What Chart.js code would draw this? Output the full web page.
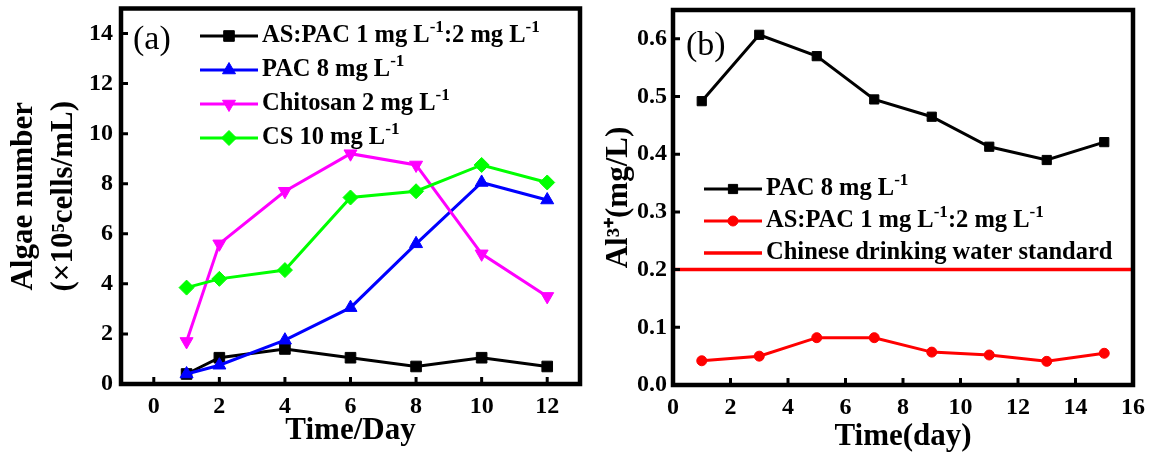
<!DOCTYPE html>
<html>
<head>
<meta charset="utf-8">
<script src="https://cdn.jsdelivr.net/npm/chart.js@4.4.1/dist/chart.umd.min.js"></script>
<style>
  body { margin: 0; background: #fff; }
  .panel { position: absolute; top: 0; }
</style>
</head>
<body>
<canvas id="chartA" class="panel" style="left:0" width="590" height="461"></canvas>
<canvas id="chartB" class="panel" style="left:590px" width="562" height="461"></canvas>
<script>
// panel (a): algae number
const daysA = [1, 2, 4, 6, 8, 10, 12];
const asPacA = [0.4, 1.05, 1.4, 1.05, 0.7, 1.05, 0.7];
const pacA = [0.4, 0.75, 1.75, 3.05, 5.6, 8.05, 7.35];
const chitosanA = [1.7, 5.6, 7.7, 9.2, 8.75, 5.2, 3.5];
const csA = [3.85, 4.2, 4.55, 7.45, 7.7, 8.75, 8.05];
const labelsA = ["AS:PAC 1 mg L⁻¹:2 mg L⁻¹", "PAC 8 mg L⁻¹", "Chitosan 2 mg L⁻¹", "CS 10 mg L⁻¹"];
const xTicksA = [0, 2, 4, 6, 8, 10, 12];
const yTicksA = [0, 2, 4, 6, 8, 10, 12, 14];

// panel (b): residual Al3+
const daysB = [1, 3, 5, 7, 9, 11, 13, 15];
const pacB = [0.492, 0.607, 0.57, 0.495, 0.465, 0.413, 0.39, 0.421];
const asPacB = [0.042, 0.05, 0.082, 0.082, 0.057, 0.052, 0.041, 0.055];
const standardX = [0, 16];
const standardY = [0.2, 0.2];
const labelsB = ["PAC 8 mg L⁻¹", "AS:PAC 1 mg L⁻¹:2 mg L⁻¹", "Chinese drinking water standard"];
const xTicksB = [0, 2, 4, 6, 8, 10, 12, 14, 16];
const yTicksB = [0, 0.1, 0.2, 0.3, 0.4, 0.5, 0.6];

const FAMILY = '"Liberation Serif", "Times New Roman", serif';
const SUP = { "⁻": "-", "¹": "1", "³": "3", "⁺": "+", "⁵": "5" };

function toPoints(xs, ys) {
  return xs.map((x, i) => ({ x: x, y: ys[i] }));
}

// draws text with unicode superscripts as small raised runs
function drawRich(ctx, text, x, y, size) {
  const runs = [];
  for (const ch of text) {
    const sup = ch in SUP;
    const last = runs[runs.length - 1];
    if (last && last.sup === sup) last.t += sup ? SUP[ch] : ch;
    else runs.push({ sup: sup, t: sup ? SUP[ch] : ch });
  }
  runs.forEach(r => {
    const s = r.sup ? size * 0.7 : size;
    ctx.font = "bold " + s + "px " + FAMILY;
    ctx.fillText(r.t, x, r.sup ? y - size * 0.36 : y);
    x += ctx.measureText(r.t).width;
  });
}

const panelDecor = {
  id: "panelDecor",
  afterDatasetsDraw(chart, args, opts) {
    const { ctx, chartArea: a, scales } = chart;
    ctx.save();
    ctx.strokeStyle = "#000";
    ctx.lineWidth = 4.5;
    ctx.strokeRect(a.left, a.top, a.right - a.left, a.bottom - a.top);

    // inward tick marks
    ctx.lineWidth = 3;
    ctx.beginPath();
    scales.x.ticks.forEach(t => {
      const px = scales.x.getPixelForValue(t.value);
      ctx.moveTo(px, a.bottom);
      ctx.lineTo(px, a.bottom - 7);
    });
    scales.y.ticks.forEach(t => {
      const py = scales.y.getPixelForValue(t.value);
      ctx.moveTo(a.left, py);
      ctx.lineTo(a.left + 7, py);
    });
    ctx.stroke();

    ctx.fillStyle = "#000";
    ctx.textBaseline = "middle";
    ctx.textAlign = "left";
    ctx.font = "34px " + FAMILY;
    ctx.fillText(opts.tag, opts.tagX, opts.tagY);

    opts.items.forEach((di, row) => {
      const ds = chart.data.datasets[di];
      const y = opts.legendY + row * opts.rowGap;
      const x0 = opts.legendX;
      ctx.strokeStyle = ds.borderColor;
      ctx.lineWidth = ds.borderWidth;
      ctx.beginPath();
      ctx.moveTo(x0, y);
      ctx.lineTo(x0 + 58, y);
      ctx.stroke();
      if (ds.pointRadius > 0) {
        ctx.fillStyle = ds.backgroundColor;
        ctx.lineWidth = 1;
        Chart.helpers.drawPoint(ctx, {
          pointStyle: ds.pointStyle,
          rotation: ds.pointRotation || 0,
          radius: ds.pointRadius,
          borderWidth: 1
        }, x0 + 29, y);
      }
      ctx.fillStyle = "#000";
      drawRich(ctx, ds.label, x0 + 62, y, 24.5);
    });
    ctx.restore();
  }
};

function series(label, xs, ys, color, style, radius, rotation) {
  return {
    label: label,
    data: toPoints(xs, ys),
    borderColor: color,
    backgroundColor: color,
    borderWidth: 3,
    pointStyle: style,
    pointRadius: radius,
    pointRotation: rotation || 0,
    pointBorderWidth: 1
  };
}

const tickFont = { family: FAMILY, weight: "bold", size: 24 };
const titleFont = { family: FAMILY, weight: "bold", size: 31 };

function makeScales(cfg) {
  return {
    x: {
      type: "linear",
      min: cfg.xMin,
      max: cfg.xMax,
      grid: { display: false, drawTicks: false },
      border: { display: false },
      afterBuildTicks: s => { s.ticks = cfg.xTicks.map(v => ({ value: v })); },
      afterFit: s => { s.height = cfg.xHeight; s.paddingLeft = 0; s.paddingRight = 0; },
      ticks: { color: "#000", font: tickFont, padding: 8, maxRotation: 0,
        callback: v => cfg.xFmt(v) },
      title: { display: true, text: cfg.xTitle, color: "#000", font: titleFont,
        padding: { top: 0, bottom: cfg.xTitlePad } }
    },
    y: {
      type: "linear",
      min: cfg.yMin,
      max: cfg.yMax,
      grid: { display: false, drawTicks: false },
      border: { display: false },
      afterBuildTicks: s => { s.ticks = cfg.yTicks.map(v => ({ value: v })); },
      afterFit: s => { s.width = cfg.yWidth; s.paddingTop = 0; s.paddingBottom = 0; },
      ticks: { color: "#000", font: tickFont, padding: cfg.yTickPad,
        callback: v => cfg.yFmt(v) },
      title: { display: true, text: cfg.yTitle, color: "#000",
        font: Object.assign({}, titleFont, { lineHeight: "40px" }),
        padding: { top: cfg.yTitlePad, bottom: 0 } }
    }
  };
}

new Chart(document.getElementById("chartA"), {
  type: "line",
  data: {
    datasets: [
      Object.assign(series(labelsA[0], daysA, asPacA, "#000000", "rect", 7.5), { order: 4 }),
      Object.assign(series(labelsA[1], daysA, pacA, "#0000ff", "triangle", 7.5), { order: 3 }),
      Object.assign(series(labelsA[2], daysA, chitosanA, "#ff00ff", "triangle", 7.5, 180), { order: 2 }),
      Object.assign(series(labelsA[3], daysA, csA, "#00ff00", "rectRot", 7.5), { order: 1 })
    ]
  },
  options: {
    responsive: false,
    animation: false,
    events: [],
    layout: { padding: { left: 0, top: 8, right: 10, bottom: 0 } },
    scales: makeScales({
      xMin: -1, xMax: 13, xTicks: xTicksA, xFmt: v => String(v), xHeight: 77,
      xTitle: "Time/Day", xTitlePad: 11,
      yMin: 0, yMax: 15, yTicks: yTicksA, yFmt: v => String(v), yWidth: 121, yTickPad: 8,
      yTitle: ["Algae number", "(×10⁵cells/mL)"], yTitlePad: 4
    }),
    plugins: {
      legend: { display: false },
      tooltip: { enabled: false },
      panelDecor: { tag: "(a)", tagX: 133, tagY: 40, legendX: 200, legendY: 36, rowGap: 34,
        items: [0, 1, 2, 3] }
    }
  },
  plugins: [panelDecor]
});

new Chart(document.getElementById("chartB"), {
  type: "line",
  data: {
    datasets: [
      series(labelsB[0], daysB, pacB, "#000000", "rect", 6.5),
      series(labelsB[1], daysB, asPacB, "#ff0000", "circle", 5),
      Object.assign(series(labelsB[2], standardX, standardY, "#ff0000", "circle", 0), { borderWidth: 3.5 })
    ]
  },
  options: {
    responsive: false,
    animation: false,
    events: [],
    layout: { padding: { left: 0, top: 10, right: 19, bottom: 0 } },
    scales: makeScales({
      xMin: 0, xMax: 16, xTicks: xTicksB, xFmt: v => String(v), xHeight: 76,
      xTitle: "Time(day)", xTitlePad: 5,
      yMin: 0, yMax: 0.65, yTicks: yTicksB, yFmt: v => v.toFixed(1), yWidth: 83, yTickPad: 6,
      yTitle: "Al³⁺(mg/L)", yTitlePad: 9
    }),
    plugins: {
      legend: { display: false },
      tooltip: { enabled: false },
      panelDecor: { tag: "(b)", tagX: 96, tagY: 46, legendX: 114, legendY: 189, rowGap: 32,
        items: [0, 1, 2] }
    }
  },
  plugins: [panelDecor]
});
</script>
</body>
</html>
